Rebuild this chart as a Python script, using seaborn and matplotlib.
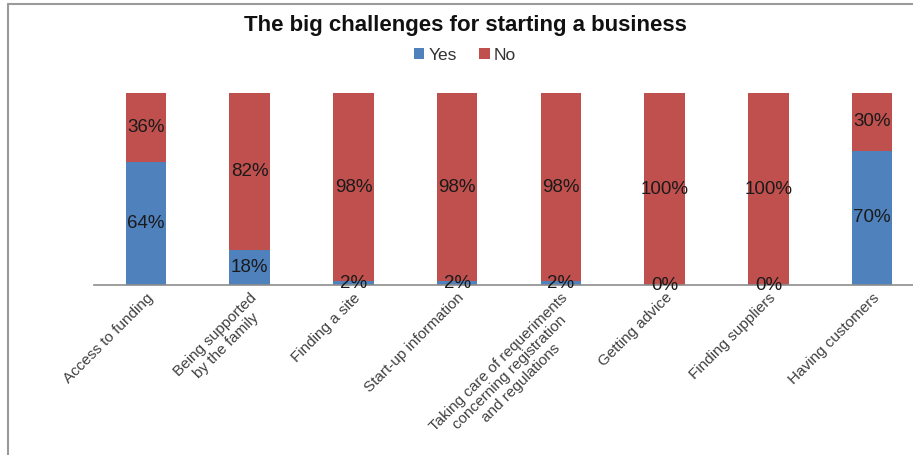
import matplotlib
matplotlib.use("Agg")
import matplotlib.pyplot as plt
from matplotlib.patches import Patch
from matplotlib.lines import Line2D
import seaborn as sns
import pandas as pd

categories = [
    "Access to funding",
    "Being supported\nby the family",
    "Finding a site",
    "Start-up information",
    "Taking care of requeriments\nconcerning registration\nand regulations",
    "Getting advice",
    "Finding suppliers",
    "Having customers",
]
yes_pct = [64, 18, 2, 2, 2, 0, 0, 70]
no_pct = [36, 82, 98, 98, 98, 100, 100, 30]

BLUE = "#4F81BD"
RED = "#C0504D"

sns.set_theme(style="white")
plt.rcParams["font.family"] = ["Liberation Sans", "DejaVu Sans"]

df = pd.DataFrame({"category": categories, "Yes": yes_pct, "No": no_pct})
df["total"] = df["Yes"] + df["No"]

fig = plt.figure(figsize=(9.13, 4.55), dpi=100)
ax = fig.add_axes([94 / 913, 170 / 455, 830 / 913, 192 / 455])

# stacked bars: full height in red, the "Yes" share drawn over it in blue
sns.barplot(data=df, x="category", y="total", color=RED, saturation=1,
            width=0.39, ax=ax, linewidth=0)
sns.barplot(data=df, x="category", y="Yes", color=BLUE, saturation=1,
            width=0.39, ax=ax, linewidth=0)

ax.set_ylim(0, 100)
ax.set_xlim(-0.5, len(categories) - 0.5)
ax.set_xlabel("")
ax.set_ylabel("")
ax.set_yticks([])
for s in ["top", "right", "left"]:
    ax.spines[s].set_visible(False)
ax.spines["bottom"].set_color("#8c8c8c")
ax.spines["bottom"].set_linewidth(1.2)
ax.tick_params(axis="x", length=0, pad=4)
ax.set_xticks(range(len(categories)))
ax.set_xticklabels(categories, rotation=45, ha="right", rotation_mode="anchor",
                   fontsize=11, color="#404040", multialignment="center",
                   linespacing=1.1)

# percentage labels centred in each segment
for i, (y, n) in enumerate(zip(yes_pct, no_pct)):
    ax.text(i, y / 2, f"{y}%", ha="center", va="center", fontsize=13.5,
            color="#1a1a1a", clip_on=False)
    ax.text(i, y + n / 2, f"{n}%", ha="center", va="center", fontsize=13.5,
            color="#1a1a1a", clip_on=False)

fig.text(465 / 913, 1 - 25 / 455, "The big challenges for starting a business",
         ha="center", va="center", fontsize=16, fontweight="bold", color="#111111")

handles = [Patch(facecolor=BLUE, edgecolor="none", label="Yes"),
           Patch(facecolor=RED, edgecolor="none", label="No")]
fig.legend(handles=handles, loc="center", bbox_to_anchor=(465 / 913, 1 - 55 / 455),
           ncol=2, frameon=False, fontsize=12.5, handlelength=0.6, handleheight=0.6,
           handletextpad=0.25, columnspacing=1.3, labelcolor="#333333")

# outer frame along the top and left
fig.add_artist(Line2D([8 / 913, 1.0], [1 - 4 / 455] * 2, transform=fig.transFigure,
                      color="#9a9a9a", linewidth=1.5))
fig.add_artist(Line2D([8 / 913] * 2, [0.0, 1 - 4 / 455], transform=fig.transFigure,
                      color="#9a9a9a", linewidth=1.5))

fig.savefig("out.png", dpi=100, facecolor="white")
